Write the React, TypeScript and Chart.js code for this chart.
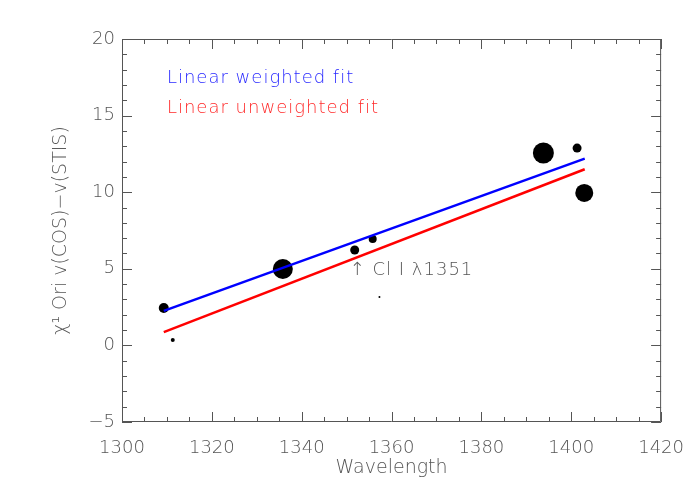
import React, { useEffect, useRef } from "react";
import { Chart, registerables } from "chart.js";

Chart.register(...registerables);

// Measured lines (wavelength, velocity difference) and their relative weights
const wavelengths = [1309.3, 1311.3, 1335.8, 1351.8, 1355.8, 1357.3, 1393.8, 1401.3, 1402.9];
const velocityDiff = [2.44, 0.35, 4.99, 6.23, 6.95, 3.16, 12.56, 12.88, 9.95];
const weights = [5, 2, 10, 4.5, 4, 1, 10.5, 4.5, 9];

// Fits evaluated at the ends of the wavelength range
const fitX = [1309.3, 1403.0];
const weightedFitY = [2.25, 12.19];
const unweightedFitY = [0.87, 11.5];

const xTicks = [1300, 1320, 1340, 1360, 1380, 1400, 1420];
const yTicks = [-5, 0, 5, 10, 15, 20];

const legendLabels = ["Linear weighted fit", "Linear unweighted fit"];
const annotationText = "\u2191 Cl I \u03bb1351";

const FONT = "'DejaVu Sans', sans-serif";
const GREY = "#555555";

const framePlugin = {
  id: "idlFrame",
  afterDraw(chart: any) {
    const { ctx, chartArea } = chart;
    const { left, right, top, bottom } = chartArea;
    const xs = chart.scales.x;
    const ys = chart.scales.y;
    ctx.save();
    ctx.strokeStyle = GREY;
    ctx.lineWidth = 1;
    ctx.beginPath();
    ctx.rect(left + 0.5, top + 0.5, right - left - 1, bottom - top - 1);
    ctx.stroke();
    ctx.beginPath();
    for (let v = xs.min; v <= xs.max + 1e-6; v += 5) {
      const len = Math.abs(v % 20) < 1e-6 ? 10 : 5;
      const px = Math.round(xs.getPixelForValue(v)) + 0.5;
      ctx.moveTo(px, bottom);
      ctx.lineTo(px, bottom - len);
      ctx.moveTo(px, top);
      ctx.lineTo(px, top + len);
    }
    for (let v = ys.min; v <= ys.max + 1e-6; v += 1) {
      const len = Math.abs(v % 5) < 1e-6 ? 10 : 5;
      const py = Math.round(ys.getPixelForValue(v)) + 0.5;
      ctx.moveTo(left, py);
      ctx.lineTo(left + len, py);
      ctx.moveTo(right, py);
      ctx.lineTo(right - len, py);
    }
    ctx.stroke();

    // legend texts and annotation
    ctx.font = `200 18px ${FONT}`;
    try { ctx.letterSpacing = "1px"; } catch (e) {}
    ctx.textBaseline = "middle";
    ctx.textAlign = "left";
    ctx.fillStyle = "#2a2aff";
    ctx.fillText(legendLabels[0], xs.getPixelForValue(1310), ys.getPixelForValue(17.45));
    ctx.fillStyle = "#ff2a2a";
    ctx.fillText(legendLabels[1], xs.getPixelForValue(1310), ys.getPixelForValue(15.5));
    ctx.fillStyle = GREY;
    ctx.fillText(annotationText, xs.getPixelForValue(1351.8) - 5, ys.getPixelForValue(4.92));
    ctx.restore();
  },
};

export default function App() {
  const ref = useRef<HTMLCanvasElement | null>(null);

  useEffect(() => {
    if (!ref.current) return;
    const chart = new Chart(ref.current, {
      type: "scatter",
      data: {
        datasets: [
          {
            type: "line",
            data: fitX.map((x, i) => ({ x, y: weightedFitY[i] })),
            borderColor: "#0000ff",
            borderWidth: 2.5,
            pointRadius: 0,
            fill: false,
            order: 0,
          },
          {
            type: "line",
            data: fitX.map((x, i) => ({ x, y: unweightedFitY[i] })),
            borderColor: "#ff0000",
            borderWidth: 2.5,
            pointRadius: 0,
            fill: false,
            order: 0,
          },
          {
            type: "scatter",
            data: wavelengths.map((x, i) => ({ x, y: velocityDiff[i] })),
            backgroundColor: "#000000",
            borderWidth: 0,
            pointRadius: weights,
            order: 1,
          },
        ],
      },
      options: {
        responsive: false,
        animation: false,
        layout: { padding: { top: 39, right: 38, left: 0, bottom: 0 } },
        plugins: {
          legend: { display: false },
          tooltip: { enabled: false },
        },
        scales: {
          x: {
            type: "linear",
            min: 1300,
            max: 1420,
            afterBuildTicks: (s: any) => {
              s.ticks = xTicks.map((v) => ({ value: v }));
            },
            afterFit: (s: any) => {
              s.height = 78;
            },
            grid: { display: false, drawTicks: false },
            border: { display: false },
            ticks: {
              color: GREY,
              font: { family: FONT, size: 18, weight: "200" },
              padding: 16,
              maxRotation: 0,
              autoSkip: false,
              callback: (v: any) => String(v),
            },
            title: {
              display: true,
              text: "Wavelength",
              color: GREY,
              font: { family: FONT, size: 19, weight: "200" },
              padding: { top: 0, bottom: 21 },
            },
          },
          y: {
            type: "linear",
            min: -5,
            max: 20,
            afterBuildTicks: (s: any) => {
              s.ticks = yTicks.map((v) => ({ value: v }));
            },
            afterFit: (s: any) => {
              s.width = 122;
            },
            grid: { display: false, drawTicks: false },
            border: { display: false },
            ticks: {
              color: GREY,
              font: { family: FONT, size: 18, weight: "200" },
              padding: 7,
              autoSkip: false,
              callback: (v: any) => String(v).replace("-", "\u2212"),
            },
            title: {
              display: true,
              text: "\u03c7\u00b9 Ori v(COS)\u2212v(STIS)",
              color: GREY,
              font: { family: FONT, size: 19, weight: "200" },
              padding: { top: 50, bottom: 0 },
            },
          },
        },
      },
      plugins: [framePlugin],
    });
    return () => chart.destroy();
  }, []);

  return (
    <div style={{ position: "fixed", left: 0, top: 0, width: 700, height: 500, background: "#fff" }}>
      <canvas ref={ref} width={700} height={500} />
    </div>
  );
}
